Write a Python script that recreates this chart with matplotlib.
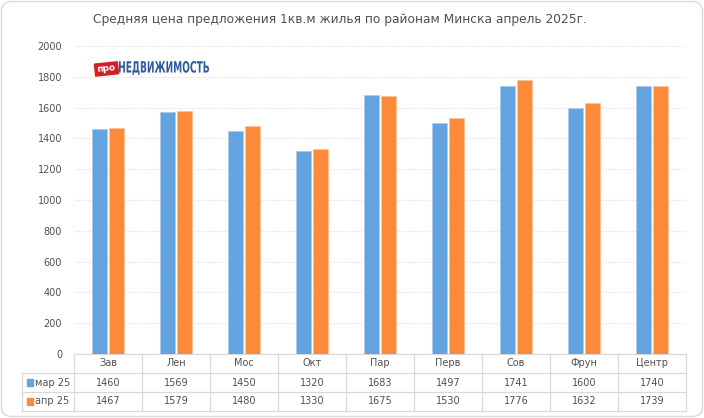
import numpy as np
import matplotlib
matplotlib.use('Agg')
import matplotlib.pyplot as plt
import matplotlib.transforms as mtransforms
from matplotlib.patches import FancyBboxPatch, Rectangle, PathPatch
from matplotlib.textpath import TextPath
from matplotlib.font_manager import FontProperties

# Data
districts = ['Зав', 'Лен', 'Мос', 'Окт', 'Пар', 'Перв', 'Сов', 'Фрун', 'Центр']
mar25 = [1460, 1569, 1450, 1320, 1683, 1497, 1741, 1600, 1740]
apr25 = [1467, 1579, 1480, 1330, 1675, 1530, 1776, 1632, 1739]
series_names = ['мар 25', 'апр 25']
yticks = [0, 200, 400, 600, 800, 1000, 1200, 1400, 1600, 1800, 2000]

title = 'Средняя цена предложения 1кв.м жилья по районам Минска апрель 2025г.'

W, H = 704, 418
blue = '#62A3E0'
orange = '#FD8A3A'
txt = '#505050'
grid_c = '#D9D9D9'

plt.rcParams['font.family'] = ['DejaVu Sans']

fig = plt.figure(figsize=(W / 100, H / 100), dpi=100)

# plot area in pixels: x 74..686, y 46..354
left, right, top, bottom = 74, 686, 46, 354
ax = fig.add_axes([left / W, 1 - bottom / H, (right - left) / W, (bottom - top) / H])

x = np.arange(len(districts))
bw = 0.228
ax.bar(x - 0.124, mar25, bw, color=blue, edgecolor='#A9CDF0', linewidth=0.6, zorder=3)
ax.bar(x + 0.124, apr25, bw, color=orange, edgecolor='#FFC29A', linewidth=0.6, zorder=3)

ax.set_xlim(-0.5, len(districts) - 0.5)
ax.set_ylim(0, 2000)
ax.set_yticks(yticks)
ax.set_yticklabels([str(v) for v in yticks], fontsize=7, color=txt)
ax.tick_params(axis='y', length=0, pad=8.5)
ax.set_xticks([])
for s in ax.spines.values():
    s.set_visible(False)
ax.grid(axis='y', color='#E3E3E3', linewidth=0.8, linestyle=(0, (1, 1)), zorder=0)
ax.set_axisbelow(True)

fig.text(340 / W, 1 - 20 / H, title, ha='center', va='center', fontsize=8.8, color=txt)

# data table under the axes
trans = mtransforms.blended_transform_factory(ax.transData, fig.transFigure)
def fy(p):
    return 1 - p / H

rows_y = [354, 373, 392, 411]
line_kw = dict(color=grid_c, linewidth=0.9, clip_on=False)
n = len(districts)
# horizontal lines
ax.plot([-0.5, n - 0.5], [fy(354)] * 2, transform=trans, **line_kw)
for yy in rows_y[1:]:
    ax.plot([22 / W, right / W], [fy(yy)] * 2, transform=fig.transFigure, **line_kw)
# vertical lines
for b in np.arange(n + 1) - 0.5:
    ax.plot([b, b], [fy(354), fy(411)], transform=trans, **line_kw)
ax.plot([22 / W, 22 / W], [fy(373), fy(411)], transform=fig.transFigure, **line_kw)

for i, d in enumerate(districts):
    ax.text(i, fy(363.5), d, transform=trans, ha='center', va='center', fontsize=7, color=txt)
    ax.text(i, fy(382.5), str(mar25[i]), transform=trans, ha='center', va='center', fontsize=7, color=txt)
    ax.text(i, fy(401.5), str(apr25[i]), transform=trans, ha='center', va='center', fontsize=7, color=txt)

for name, col, yc in [(series_names[0], blue, 382.5), (series_names[1], orange, 401.5)]:
    fig.patches.append(Rectangle((26.5 / W, fy(yc + 3.5)), 6.5 / W, 7 / H, color=col,
                                 transform=fig.transFigure))
    fig.text(35 / W, fy(yc), name, ha='left', va='center', fontsize=7, color=txt)

# outer rounded border
fig.patches.append(FancyBboxPatch((1.5, 1.5), W - 3, H - 3,
                                  boxstyle='round,pad=0,rounding_size=10',
                                  fill=False, edgecolor='#D9D9D9', linewidth=1,
                                  transform=mtransforms.IdentityTransform()))

# logo "проНЕДВИЖИМОСТЬ"
logo_box = Rectangle((95, H - 75), 23, 12, color='#D0202A',
                     transform=mtransforms.Affine2D().rotate_deg_around(106, H - 69, 6))
fig.patches.append(logo_box)
fig.text(106.5 / W, fy(69), 'про', ha='center', va='center', fontsize=6.5,
         color='white', fontweight='bold', rotation=6)
tp = TextPath((0, 0), 'НЕДВИЖИМОСТЬ', size=20,
              prop=FontProperties(family='DejaVu Sans', weight='bold'))
ext = tp.get_extents()
sx = (209 - 119) / ext.width
sy = (75 - 61) / ext.height
tr = (mtransforms.Affine2D().translate(-ext.x0, -ext.y0).scale(sx, sy)
      .translate(119, H - 75))
fig.patches.append(PathPatch(tp, color='#2F5B9B', lw=0, transform=tr))

fig.savefig('out.png', dpi=100)
